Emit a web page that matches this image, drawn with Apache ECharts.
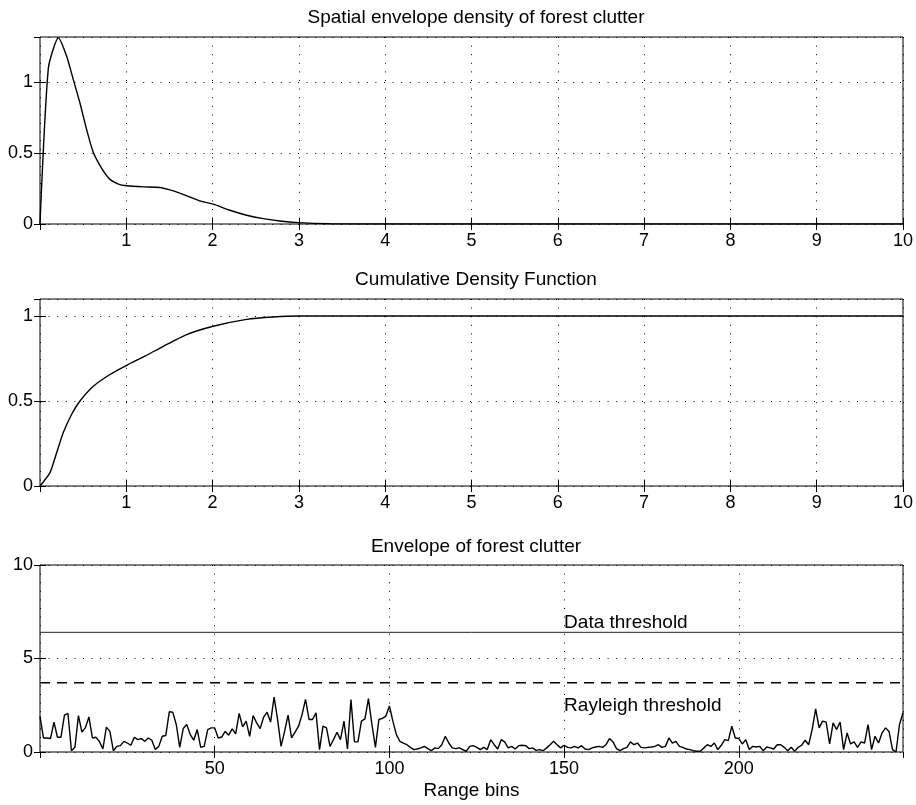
<!DOCTYPE html>
<html>
<head>
<meta charset="utf-8">
<script src="https://cdn.jsdelivr.net/npm/echarts@6/dist/echarts.min.js"></script>
<style>
  html, body { margin: 0; padding: 0; background: #fff; }
  #chart { width: 916px; height: 805px; }
</style>
</head>
<body>
<div id="chart"></div>
<script>
// spatial envelope density (pdf)
const pdfX = [0, 0.097, 0.213, 0.309, 0.386, 0.463, 0.541, 0.618, 0.715, 0.811, 0.908, 1.004, 1.197, 1.39, 1.545, 1.7, 1.85, 2.008, 2.2, 2.395, 2.588, 2.78, 2.99, 3.36, 4, 5, 6, 7, 8, 9, 10];
const pdfY = [0, 1.10, 1.315, 1.184, 1.019, 0.854, 0.665, 0.504, 0.393, 0.315, 0.282, 0.27, 0.262, 0.258, 0.234, 0.199, 0.163, 0.14, 0.097, 0.062, 0.038, 0.021, 0.01, 0.002, 0, 0, 0, 0, 0, 0, 0];

// cumulative density
const cdfX = [0, 0.116, 0.193, 0.27, 0.367, 0.463, 0.618, 0.811, 1.004, 1.217, 1.429, 1.7, 2.008, 2.395, 2.7, 2.993, 4, 5, 6, 7, 8, 9, 10];
const cdfY = [0, 0.079, 0.196, 0.314, 0.422, 0.5, 0.587, 0.656, 0.71, 0.764, 0.822, 0.891, 0.94, 0.98, 0.994, 1.0, 1, 1, 1, 1, 1, 1, 1];

// envelope of forest clutter, one value per range bin (0..247)
const envelope = [
  1.9, 0.75, 0.75, 0.72, 1.6, 0.79, 0.79, 1.97, 2.06, 0.07, 0.25, 1.95, 1.06, 1.3, 1.88, 0.75, 0.79, 0.57, 0.16, 1.33,
  1.1, 0.07, 0.3, 0.34, 0.57, 0.48, 0.36, 0.79, 0.66, 0.72, 0.57, 0.75, 0.63, 0.13, 0.3, 0.84, 0.88, 2.15, 2.13, 1.47,
  0.25, 1.26, 1.47, 0.93, 0.63, 1.2, 0.25, 0.3, 1.2,
  1.29, 1.29, 0.75, 0.8, 1.1, 0.9, 1.24, 0.97, 2.06, 1.34, 1.65, 0.84, 1.95, 1.56, 1.25, 1.86, 2.13, 1.6, 2.94, 1.74,
  0.3, 1.1, 1.97, 0.75, 1.06, 1.38, 2.0, 2.81, 1.74, 1.74, 2.1, 0.13, 1.38, 1.29, 0.3, 0.66, 1.06, 0.66, 1.65, 0.16,
  2.81, 0.54, 0.54, 1.65, 1.77, 2.85, 1.47, 0.25, 1.74, 1.8,
  1.92, 2.46, 1.65, 0.93, 0.57, 0.48, 0.39, 0.25, 0.13, 0.16, 0.22, 0.3, 0.18, 0.07, 0.22, 0.18, 0.39, 0.84, 0.48, 0.22,
  0.18, 0.22, 0.13, 0.04, 0.3, 0.34, 0.25, 0.13, 0.25, 0.13, 0.66, 0.39, 0.16, 0.66, 0.54, 0.22, 0.3, 0.16, 0.34, 0.36,
  0.34, 0.18, 0.22, 0.09, 0.13, 0.07, 0.22, 0.39, 0.57, 0.39, 0.22,
  0.36, 0.25, 0.22, 0.3, 0.22, 0.34, 0.16, 0.13, 0.22, 0.27, 0.3, 0.25, 0.39, 0.72, 0.54, 0.18, 0.07, 0.18, 0.25, 0.54,
  0.39, 0.48, 0.25, 0.22, 0.25, 0.27, 0.3, 0.39, 0.25, 0.3, 0.75, 0.48, 0.57, 0.3, 0.25, 0.16, 0.13, 0.07, 0.04, 0.04,
  0.22, 0.39, 0.3, 0.48, 0.13, 0.36, 0.66, 0.61,
  1.38, 0.75, 0.72, 0.43, 0.66, 0.13, 0.3, 0.27, 0.3, 0.07, 0.27, 0.22, 0.16, 0.39, 0.39, 0.25, 0.07, 0.25, 0.04, 0.25,
  0.36, 0.63, 0.39, 1.2, 2.31, 1.29, 1.65, 1.6, 0.43, 1.56, 1.2, 1.6, 0.13, 1.02, 0.43, 0.54, 0.25, 0.54, 0.48, 1.47,
  0.13, 0.84, 0.48, 1.02, 1.29, 1.1, 0.13, 0, 1.47, 2.1
];

const dataThreshold = 6.4;
const rayleighThreshold = 3.7;
const titles = ["Spatial envelope density of forest clutter", "Cumulative Density Function", "Envelope of forest clutter"];

const FONT = "Liberation Sans";
const dotted = { color: "#000", width: 1, type: [1, 7.6] };
const binMax = envelope.length - 1;

// common axis pieces (matlab look: box, inward ticks, dotted grid)
function mainX(grid, max, interval, name) {
  return {
    type: "value", gridIndex: grid, min: 0, max: max, interval: interval,
    axisLine: { show: false },
    axisTick: { show: true, inside: true, length: 6, lineStyle: { color: "#000" } },
    axisLabel: { color: "#000", fontFamily: FONT, fontSize: 18, margin: 8, showMinLabel: false, showMaxLabel: max % interval === 0, hideOverlap: false },
    splitLine: { show: true, lineStyle: dotted },
    name: name || "", nameLocation: "middle", nameGap: 29,
    nameTextStyle: { color: "#000", fontFamily: FONT, fontSize: 19 },
  };
}
function sideX(grid, max, interval) {
  return {
    type: "value", gridIndex: grid, position: "top", min: 0, max: max, interval: interval,
    axisLine: { show: false }, axisLabel: { show: false }, splitLine: { show: false },
    axisTick: { show: true, inside: true, length: 6, lineStyle: { color: "#000" } },
  };
}
function mainY(grid, max, interval) {
  return {
    type: "value", gridIndex: grid, min: 0, max: max, interval: interval,
    axisLine: { show: false },
    axisTick: { show: true, inside: true, length: 6, lineStyle: { color: "#000" } },
    axisLabel: { color: "#000", fontFamily: FONT, fontSize: 18, margin: 7, showMaxLabel: max % interval === 0, hideOverlap: false },
    splitLine: { show: true, lineStyle: dotted },
  };
}
function sideY(grid, max, interval) {
  return {
    type: "value", gridIndex: grid, position: "right", min: 0, max: max, interval: interval,
    axisLine: { show: false }, axisLabel: { show: false }, splitLine: { show: false },
    axisTick: { show: true, inside: true, length: 6, lineStyle: { color: "#000" } },
  };
}

const pdfData = pdfX.map((x, i) => [x, pdfY[i]]);
const cdfData = cdfX.map((x, i) => [x, cdfY[i]]);
const envData = envelope.map((v, i) => [i, v]);

const chart = echarts.init(document.getElementById("chart"), null, { renderer: "canvas" });
chart.setOption({
  backgroundColor: "#fff",
  animation: false,
  title: titles.map((t, i) => ({
    text: t, left: 471, top: [3, 265, 532][i], textAlign: "center",
    textStyle: { color: "#000", fontFamily: FONT, fontSize: 19, fontWeight: "normal" },
  })),
  grid: [
    { left: 40, top: 37, width: 863, height: 187, show: true, borderColor: "#000", borderWidth: 1, backgroundColor: "#fff" },
    { left: 40, top: 299, width: 863, height: 187, show: true, borderColor: "#000", borderWidth: 1, backgroundColor: "#fff" },
    { left: 40, top: 565, width: 863, height: 187, show: true, borderColor: "#000", borderWidth: 1, backgroundColor: "#fff" },
  ],
  xAxis: [
    mainX(0, 10, 1), mainX(1, 10, 1), mainX(2, binMax, 50, "Range bins"),
    sideX(0, 10, 1), sideX(1, 10, 1), sideX(2, binMax, 50),
  ],
  yAxis: [
    mainY(0, 1.32, 0.5), mainY(1, 1.1, 0.5), mainY(2, 10, 5),
    sideY(0, 1.32, 0.5), sideY(1, 1.1, 0.5), sideY(2, 10, 5),
  ],
  series: [
    { type: "line", xAxisIndex: 0, yAxisIndex: 0, data: pdfData, showSymbol: false, smooth: 0.2, lineStyle: { color: "#000", width: 1.4 } },
    { type: "line", xAxisIndex: 1, yAxisIndex: 1, data: cdfData, showSymbol: false, smooth: 0.2, lineStyle: { color: "#000", width: 1.4 } },
    { type: "line", xAxisIndex: 2, yAxisIndex: 2, data: envData, showSymbol: false, lineStyle: { color: "#000", width: 1.4 } },
    {
      type: "line", xAxisIndex: 2, yAxisIndex: 2, showSymbol: false,
      data: [[0, dataThreshold], [binMax, dataThreshold]],
      lineStyle: { color: "#222", width: 1 },
    },
    {
      type: "line", xAxisIndex: 2, yAxisIndex: 2, showSymbol: false,
      data: [[0, rayleighThreshold], [binMax, rayleighThreshold]],
      lineStyle: { color: "#000", width: 1.4, type: [10, 7] },
    },
    {
      type: "scatter", xAxisIndex: 2, yAxisIndex: 2, symbolSize: 0,
      itemStyle: { opacity: 1 },
      data: [
        { value: [150, 6.93], name: "Data threshold" },
        { value: [150, 2.45], name: "Rayleigh threshold" },
      ],
      label: { show: true, position: "right", distance: 0, formatter: "{b}", color: "#000", opacity: 1, fontFamily: FONT, fontSize: 19 },
    },
  ],
});
</script>
</body>
</html>
